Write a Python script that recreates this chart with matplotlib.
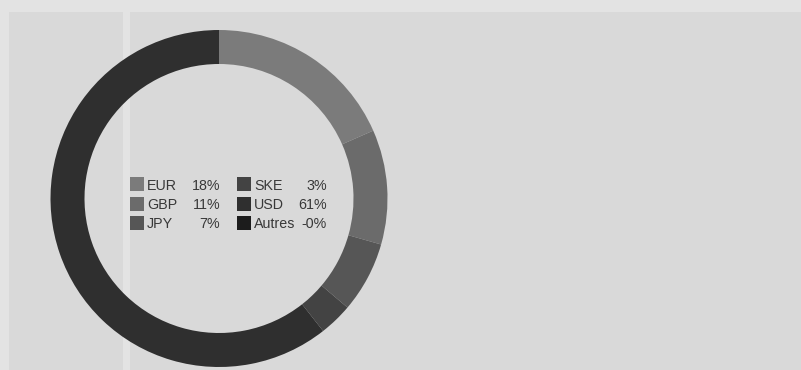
import matplotlib
matplotlib.use("Agg")
import matplotlib.pyplot as plt
from matplotlib.patches import Rectangle

# ---- data ----
categories = ["EUR", "GBP", "JPY", "SKE", "USD", "Autres"]
shares = [18.4, 11.0, 6.8, 3.2, 60.6, 0.0]
share_labels = ["18%", "11%", "7%", "3%", "61%", "-0%"]
colors = ["#7b7b7b", "#6b6b6b", "#565656", "#434343", "#2f2f2f", "#1c1c1c"]

W, H = 801, 370
fig = plt.figure(figsize=(W / 100, H / 100), dpi=100)
fig.patch.set_facecolor("#e3e3e3")

def fx(x):
    return x / W

def fy(y):
    return 1 - y / H

# panels
panel_col = "#d9d9d9"
fig.add_artist(Rectangle((fx(9), 0), fx(123) - fx(9), fy(12), transform=fig.transFigure,
                         facecolor=panel_col, edgecolor="none", zorder=0))
fig.add_artist(Rectangle((fx(130), 0), 1 - fx(130), fy(12), transform=fig.transFigure,
                         facecolor=panel_col, edgecolor="none", zorder=0))

# donut
cx, cy, R = 219, 198.5, 168.5
ax = fig.add_axes([fx(cx - R), fy(cy + R), 2 * R / W, 2 * R / H])
ax.patch.set_alpha(0)
ax.pie(shares, colors=colors, startangle=90, counterclock=False, radius=1,
       wedgeprops=dict(width=34 / R, edgecolor="none", linewidth=0))
ax.set_xlim(-1, 1)
ax.set_ylim(-1, 1)
ax.axis("off")

# legend
font = dict(family=["Liberation Sans", "DejaVu Sans"], fontsize=10.3, color="#383838")
col_sq = [130, 237]
col_txt = [147, 254]
col_pct = [220, 327]
row_base = [189.5, 209.0, 228.4]
for i, (cat, lab, c) in enumerate(zip(categories, share_labels, colors)):
    col, row = divmod(i, 3)
    base = row_base[row]
    fig.add_artist(Rectangle((fx(col_sq[col]), fy(base + 1.5)), 14 / W, 14 / H,
                             transform=fig.transFigure, facecolor=c, edgecolor="none"))
    fig.text(fx(col_txt[col]), fy(base), cat, ha="left", va="baseline", **font)
    fig.text(fx(col_pct[col]), fy(base), lab, ha="right", va="baseline", **font)

fig.savefig("out.png", dpi=100, facecolor=fig.get_facecolor())
